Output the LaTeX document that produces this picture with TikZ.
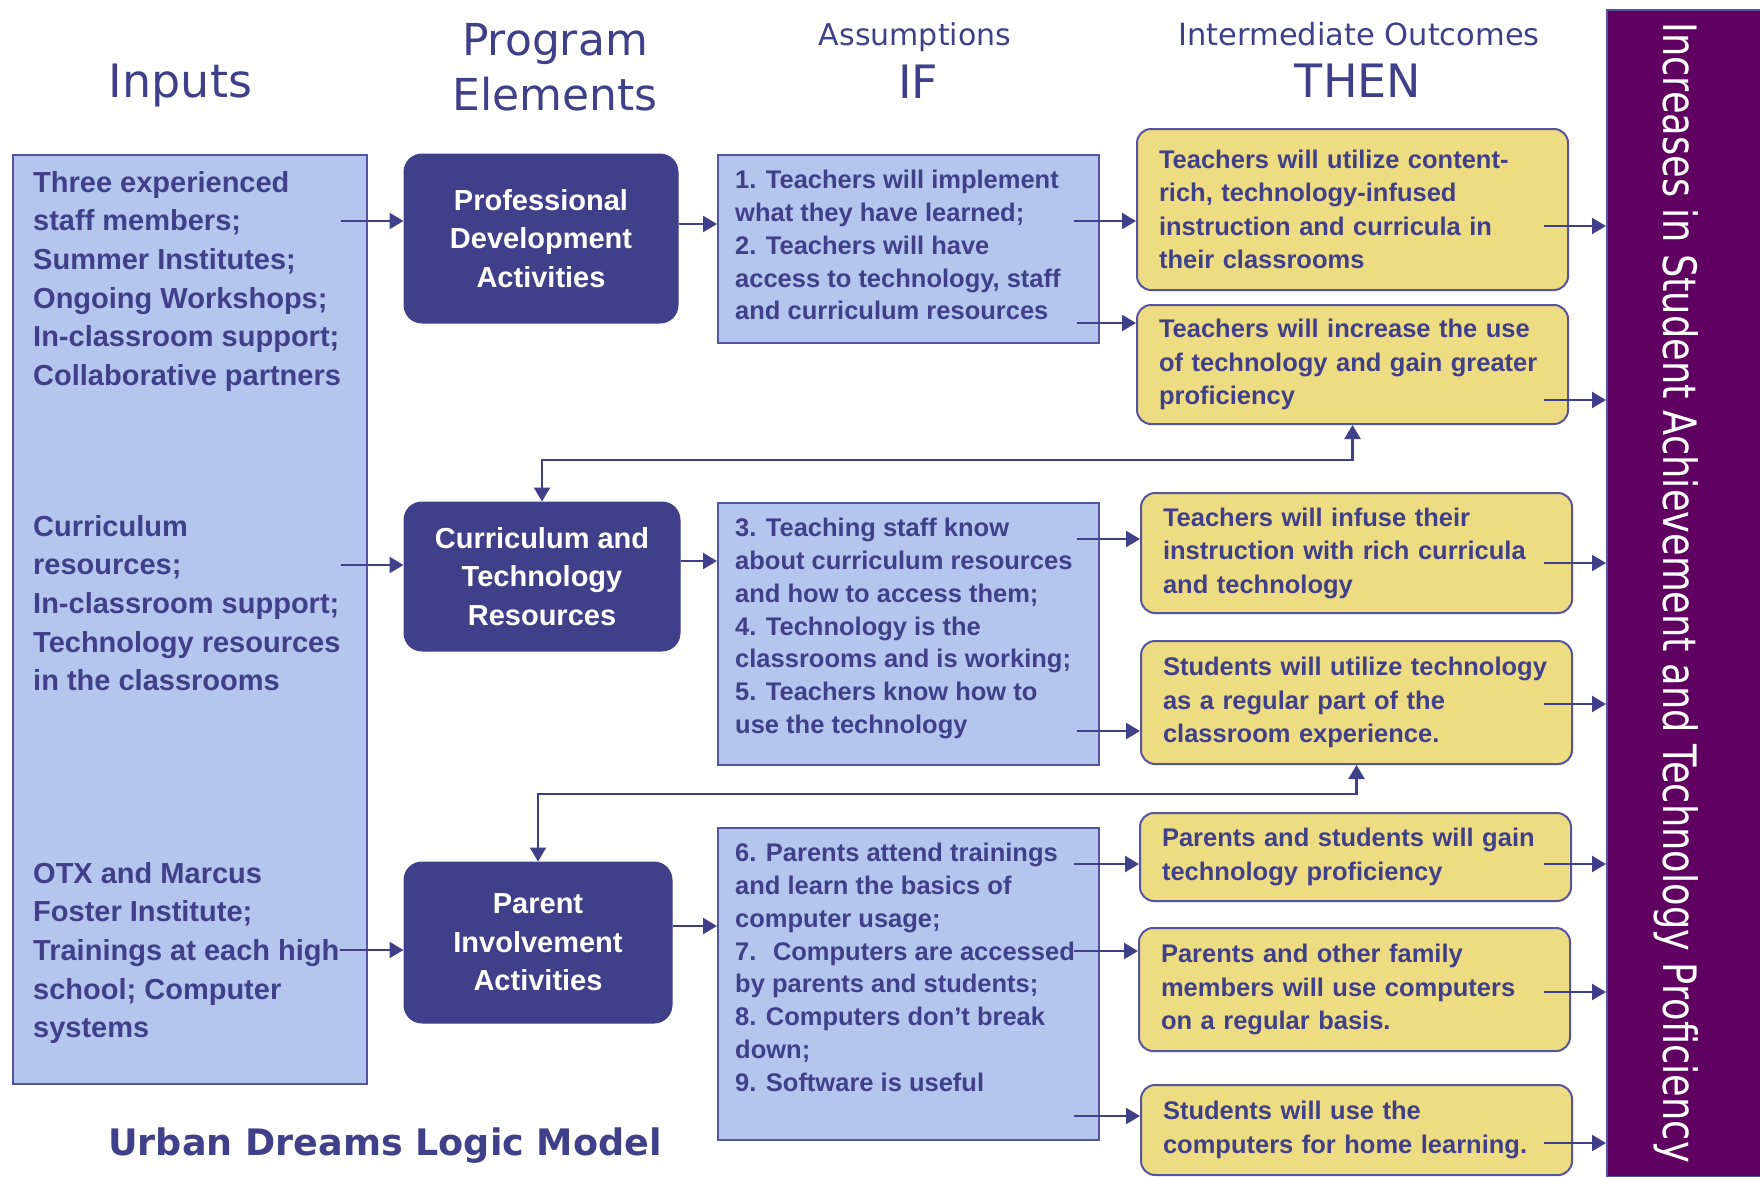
\documentclass[tikz,border=0pt]{standalone}
\usepackage{fontspec}
\setmainfont{Liberation Sans}
\newfontfamily\headfont{DejaVu Sans}
\newfontfamily\barfont[FakeStretch=0.8]{DejaVu Sans}
\usetikzlibrary{arrows.meta,calc}

\definecolor{navy}{RGB}{64,64,138}
\definecolor{edgeblue}{RGB}{84,84,160}
\definecolor{paleblue}{RGB}{180,198,238}
\definecolor{khaki}{RGB}{238,220,130}
\definecolor{plum}{RGB}{96,0,96}

\begin{document}
\begin{tikzpicture}[x=1pt,y=-1pt,
  >={Triangle[length=14pt,width=16pt]},
  hdr/.style={text=navy, font={\headfont\fontsize{#1}{#1}\selectfont}, inner sep=0pt, anchor=base},
  bluebox/.style={draw=edgeblue, line width=2pt, fill=paleblue, inner sep=0pt, anchor=north west},
  intext/.style={text=navy, font={\bfseries\fontsize{29}{38.6}\selectfont}, align=left, anchor=north west, inner sep=0pt},
  astext/.style={text=navy, font={\bfseries\fontsize{25.5}{32.8}\selectfont}, align=left, anchor=north west, inner sep=0pt},
  darkbox/.style={fill=navy, draw=navy, line width=1pt, rounded corners=18pt, text=white,
    font={\bfseries\fontsize{29}{38.6}\selectfont}, align=center, inner sep=0pt},
  outbox/.style={fill=khaki, draw=edgeblue, line width=2pt, rounded corners=14pt, text=navy,
    font={\bfseries\fontsize{25.5}{33.5}\selectfont}, align=left, text width=387pt, inner sep=0pt,
    minimum width=431pt},
  conn/.style={draw=navy, line width=2.3pt, ->},
  loopback/.style={draw=navy, line width=2.3pt, <->},
]
\useasboundingbox (0,0) rectangle (1760,1176);

% column headings
\node[hdr=46] (hinputs) at (180.5,97) {Inputs};
\node[hdr=44] (hprog) at (555,55) {Program};
\node[hdr=44] (helem) at (555,110) {Elements};
\node[hdr=30] (hassum) at (915,45) {Assumptions};
\node[hdr=46] (hif) at (918,98) {IF};
\node[hdr=30.5] (hinter) at (1359,45) {Intermediate Outcomes};
\node[hdr=46] (hthen) at (1358,97) {THEN};

% inputs column
\node[bluebox, minimum width=354pt, minimum height=929pt] (inp) at (12,154) {};
\node[intext] (in1) at (33,171) {Three experienced\\staff members;\\Summer Institutes;\\Ongoing Workshops;\\In-classroom support;\\Collaborative partners};
\node[intext] (in2) at (33,515) {Curriculum\\resources;\\In-classroom support;\\Technology resources\\in the classrooms};
\node[intext] (in3) at (33,862) {OTX and Marcus\\Foster Institute;\\Trainings at each high\\school; Computer\\systems};

% program elements
\node[darkbox, minimum width=274pt, minimum height=169pt] (pd) at (541,238.5) {Professional\\Development\\Activities};
\node[darkbox, minimum width=276pt, minimum height=149pt] (ct) at (542,576.5) {Curriculum and\\Technology\\Resources};
\node[darkbox, minimum width=268pt, minimum height=161pt] (pi) at (538,942.5) {Parent\\Involvement\\Activities};

% assumptions
\node[bluebox, minimum width=381pt, minimum height=188pt] (a1) at (717,154) {};
\node[astext] (a1t) at (735,170) {1. Teachers will implement\\what they have learned;\\2. Teachers will have\\access to technology, staff\\and curriculum resources};
\node[bluebox, minimum width=381pt, minimum height=262pt] (a2) at (717,502) {};
\node[astext] (a2t) at (735,518) {3. Teaching staff know\\about curriculum resources\\and how to access them;\\4. Technology is the\\classrooms and is working;\\5. Teachers know how to\\use the technology};
\node[bluebox, minimum width=381pt, minimum height=312pt] (a3) at (717,827) {};
\node[astext] (a3t) at (735,843) {6. Parents attend trainings\\and learn the basics of\\computer usage;\\7.~ Computers are accessed\\by parents and students;\\8. Computers don’t break\\down;\\9. Software is useful};

% intermediate outcomes
\node[outbox, minimum height=161pt] (o1) at (1352.5,209.5) {Teachers will utilize content-\\rich, technology-infused\\instruction and curricula in\\their classrooms};
\node[outbox, minimum height=119pt] (o2) at (1352.5,364.5) {Teachers will increase the use\\of technology and gain greater\\proficiency};
\node[outbox, minimum height=120pt] (o3) at (1356.5,553) {Teachers will infuse their\\instruction with rich curricula\\and technology};
\node[outbox, minimum height=123pt] (o4) at (1356.5,702.5) {Students will utilize technology\\as a regular part of the\\classroom experience.};
\node[outbox, minimum height=88pt] (o5) at (1355.5,857) {Parents and students will gain\\technology proficiency};
\node[outbox, minimum height=123pt] (o6) at (1354.5,989.5) {Parents and other family\\members will use computers\\on a regular basis.};
\node[outbox, minimum height=90pt] (o7) at (1356.5,1130) {Students will use the\\computers for home learning.};

% long-term outcome bar
\node[fill=plum, draw=edgeblue, line width=1.5pt, inner sep=0pt, anchor=north west,
      minimum width=154pt, minimum height=1167pt] (bar) at (1606,9) {};
\node[rotate=-90, anchor=base, text=white, inner sep=0pt, font={\barfont\fontsize{46}{46}\selectfont}]
  (bartext) at (1663,592.5) {Increases in Student Achievement and Technology Proficiency};

% title
\node[anchor=base, text=navy, inner sep=0pt, font={\headfont\bfseries\fontsize{36.5}{36.5}\selectfont}]
  (title) at (385,1155) {Urban Dreams Logic Model};

% inputs to program elements
\draw[conn] (in1.east |- 0,221) -- (pd.west |- 0,221);
\draw[conn] (in2.east |- 0,565) -- (ct.west |- 0,565);
\draw[conn] (in3.east |- 0,950) -- (pi.west |- 0,950);

% program elements to assumptions
\draw[conn] (pd.east |- 0,224) -- (a1.west |- 0,224);
\draw[conn] (ct.east |- 0,561) -- (a2.west |- 0,561);
\draw[conn] (pi.east |- 0,926) -- (a3.west |- 0,926);

% assumptions to outcomes
\draw[conn] ($(a1.east |- 0,221)+(-26,0)$) -- (o1.west |- 0,221);
\draw[conn] ($(a1.east |- 0,323)+(-23,0)$) -- (o2.west |- 0,323);
\draw[conn] ($(a2.east |- 0,539)+(-23,0)$) -- (o3.west |- 0,539);
\draw[conn] ($(a2.east |- 0,731)+(-23,0)$) -- (o4.west |- 0,731);
\draw[conn] ($(a3.east |- 0,864)+(-26,0)$) -- (o5.west |- 0,864);
\draw[conn] ($(a3.east |- 0,951)+(-26,0)$) -- (o6.west |- 0,951);
\draw[conn] ($(a3.east |- 0,1116)+(-26,0)$) -- (o7.west |- 0,1116);

% outcomes to the bar
\draw[conn] ($(o1.east |- 0,226)+(-25,0)$) -- (bar.west |- 0,226);
\draw[conn] ($(o2.east |- 0,400)+(-25,0)$) -- (bar.west |- 0,400);
\draw[conn] ($(o3.east |- 0,563)+(-29,0)$) -- (bar.west |- 0,563);
\draw[conn] ($(o4.east |- 0,704)+(-29,0)$) -- (bar.west |- 0,704);
\draw[conn] ($(o5.east |- 0,864)+(-28,0)$) -- (bar.west |- 0,864);
\draw[conn] ($(o6.east |- 0,992)+(-27,0)$) -- (bar.west |- 0,992);
\draw[conn] ($(o7.east |- 0,1143)+(-29,0)$) -- (bar.west |- 0,1143);

% feedback links
\draw[loopback] (ct.north) -- (ct.north |- 0,460) -- (o2.south |- 0,460) -- (o2.south);
\draw[loopback] (pi.north) -- (pi.north |- 0,794) -- (o4.south |- 0,794) -- (o4.south);
\end{tikzpicture}
\end{document}
